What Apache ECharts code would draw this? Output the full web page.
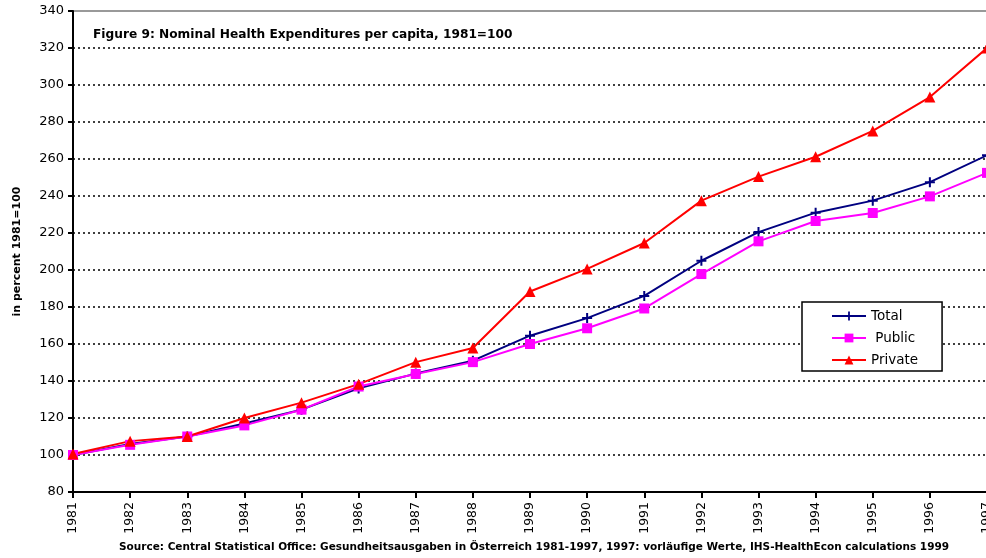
<!DOCTYPE html>
<html>
<head>
<meta charset="utf-8">
<title>Figure 9</title>
<script src="https://cdn.jsdelivr.net/npm/echarts@6/dist/echarts.min.js"></script>
<style>
  html, body { margin: 0; padding: 0; background: #fff; }
  #main { width: 986px; height: 558px; }
</style>
</head>
<body>
<div id="main"></div>
<script>
var years = ['1981', '1982', '1983', '1984', '1985', '1986', '1987', '1988', '1989',
  '1990', '1991', '1992', '1993', '1994', '1995', '1996', '1997'];
var total = [100, 106, 110, 117, 124.5, 136, 144, 151, 164.5, 174, 186, 205, 220.5, 231, 237.5, 247.5, 262];
var pub = [100, 105.5, 110, 116, 124.5, 137, 143.8, 150.2, 160, 168.5, 179.2, 197.8, 215.5, 226.5, 230.8, 239.8, 252.5];
var priv = [100.5, 107.5, 110, 120, 128.3, 138.3, 150.2, 157.8, 188.4, 200.6, 214.6, 237.5, 250.5, 261.2, 275.2, 293.5, 320];

var font = '"DejaVu Sans", sans-serif';
var plusPath = 'path://M4,0L6,0L6,4L10,4L10,6L6,6L6,10L4,10L4,6L0,6L0,4L4,4Z';

// split line colours: dotted black, none at the top (grid border draws it)
var splitColors = [];
for (var i = 0; i < 13; i++) splitColors.push('#000');
splitColors.push('rgba(0,0,0,0)');

var chart = echarts.init(document.getElementById('main'));
var option = {
  animation: false,
  backgroundColor: '#fff',
  textStyle: { fontFamily: font },
  grid: {
    left: 73, right: -1, top: 11, bottom: 66,
    outerBoundsMode: 'none', containLabel: false,
    show: true, borderColor: '#999', borderWidth: 2, backgroundColor: 'transparent'
  },
  title: {
    text: 'Figure 9: Nominal Health Expenditures per capita, 1981=100',
    left: 93, top: 29, padding: 0,
    textStyle: { fontSize: 12.2, fontWeight: 'bold', color: '#000', fontFamily: font }
  },
  legend: {
    orient: 'vertical', left: 802, top: 302,
    padding: [7, 24, 4, 29], itemGap: 8, itemWidth: 34, itemHeight: 11,
    borderColor: '#000', borderWidth: 1.5, backgroundColor: '#fff',
    textStyle: { fontSize: 13.5, color: '#000', fontFamily: font },
    formatter: function (name) { return name === 'Public' ? ' ' + name : name; },
    data: ['Total', 'Public', 'Private']
  },
  xAxis: {
    type: 'category', data: years, boundaryGap: false,
    axisLine: { lineStyle: { color: '#000', width: 2 } },
    axisTick: { show: true, length: 6, lineStyle: { color: '#000', width: 2 } },
    axisLabel: { rotate: 90, fontSize: 12.5, color: '#000', margin: 10, fontFamily: font },
    splitLine: { show: false }
  },
  yAxis: {
    type: 'value', min: 80, max: 340, interval: 20,
    name: 'in percent 1981=100', nameLocation: 'middle', nameGap: 50,
    nameTextStyle: { fontSize: 11, fontWeight: 'bold', color: '#000', fontFamily: font },
    axisLine: { show: true, lineStyle: { color: '#000', width: 2 } },
    axisTick: { show: true, length: 5, lineStyle: { color: '#000', width: 2 } },
    axisLabel: { fontSize: 13, color: '#000', margin: 9, fontFamily: font },
    splitLine: { show: true, lineStyle: { color: splitColors, type: [2, 3], width: 1.5 } }
  },
  graphic: [{
    type: 'text', left: 119, top: 542,
    style: {
      text: 'Source: Central Statistical Office: Gesundheitsausgaben in Österreich 1981-1997, 1997: vorläufige Werte, IHS-HealthEcon calculations 1999',
      font: 'bold 10.5px "DejaVu Sans", sans-serif', fill: '#000'
    }
  }],
  series: [
    {
      name: 'Total', type: 'line', data: total,
      symbol: plusPath, symbolSize: 10,
      lineStyle: { color: '#000080', width: 2 },
      itemStyle: { color: '#000080' }
    },
    {
      name: 'Public', type: 'line', data: pub,
      symbol: 'rect', symbolSize: 10,
      lineStyle: { color: '#ff00ff', width: 2 },
      itemStyle: { color: '#ff00ff' }
    },
    {
      name: 'Private', type: 'line', data: priv,
      symbol: 'triangle', symbolSize: 11,
      lineStyle: { color: '#ff0000', width: 2 },
      itemStyle: { color: '#ff0000' }
    }
  ]
};
chart.setOption(option);
</script>
</body>
</html>
